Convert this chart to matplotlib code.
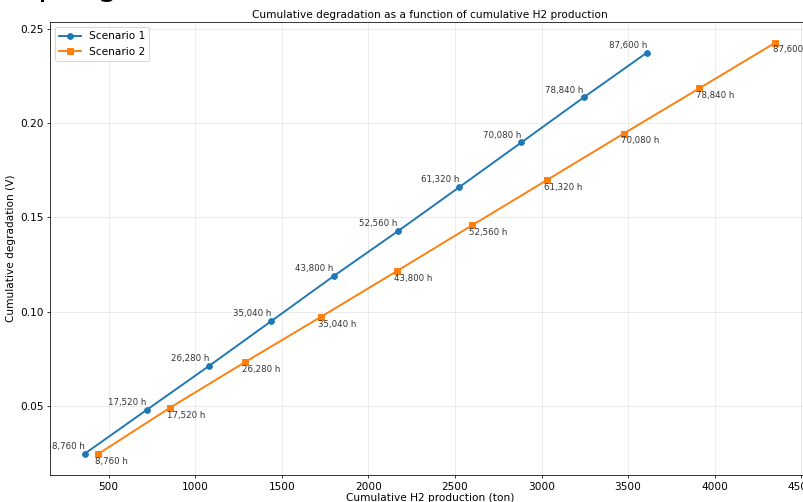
import numpy as np
import matplotlib.pyplot as plt

hours = [8760, 17520, 26280, 35040, 43800, 52560, 61320, 70080, 78840, 87600]

# scenario 1
h2_s1 = [361, 720, 1080, 1440, 1799, 2170, 2524, 2884, 3243, 3609]
deg_s1 = [0.0246, 0.0479, 0.0712, 0.0950, 0.1188, 0.1426, 0.1659, 0.1897, 0.2135, 0.2373]

# scenario 2
h2_s2 = [436, 854, 1289, 1724, 2165, 2600, 3029, 3475, 3910, 4351]
deg_s2 = [0.0243, 0.0490, 0.0733, 0.0971, 0.1215, 0.1458, 0.1696, 0.1944, 0.2183, 0.2426]

dpi = 69
fig = plt.figure(figsize=(803 / dpi, 502 / dpi), dpi=dpi)
ax = fig.add_axes([50 / 803, 27 / 502, 760 / 803, 453 / 502])

# cropped suptitle remnant at the very top
fig.text(38 / 803, 1 + 5 / 502, "pling", fontsize=34, va="baseline", ha="left")

ax.plot(h2_s1, deg_s1, marker="o", markersize=6, linewidth=2, color="#1f77b4", label="Scenario 1")
ax.plot(h2_s2, deg_s2, marker="s", markersize=6, linewidth=2, color="#ff7f0e", label="Scenario 2")

for x, y, h in zip(h2_s1, deg_s1, hours):
    ax.annotate(f"{h:,} h", (x, y), xytext=(0, 3), textcoords="offset points",
                ha="right", va="bottom", fontsize=9, color="#333333")
for x, y, h in zip(h2_s2, deg_s2, hours):
    ax.annotate(f"{h:,} h", (x, y), xytext=(-3, -3), textcoords="offset points",
                ha="left", va="top", fontsize=9, color="#333333")

ax.set_xticks([500, 1000, 1500, 2000, 2500, 3000, 3500, 4000, 4500])
ax.set_yticks([0.05, 0.10, 0.15, 0.20, 0.25])
ax.grid(True, alpha=0.3)
ax.set_title("Cumulative degradation as a function of cumulative H2 production", fontsize=11, pad=4)
ax.set_xlabel("Cumulative H2 production (ton)", fontsize=11, labelpad=1)
ax.set_ylabel("Cumulative degradation (V)", fontsize=11)
ax.tick_params(labelsize=11)
ax.legend(loc="upper left", fontsize=11)

fig.savefig("out.png", dpi=dpi)
